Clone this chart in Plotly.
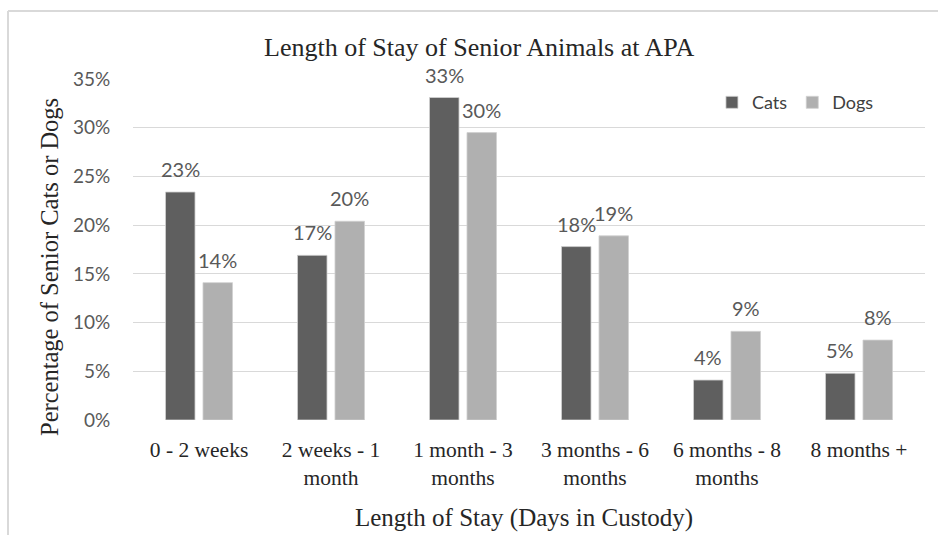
import plotly.graph_objects as go

categories = ["0 - 2 weeks", "2 weeks - 1<br>month", "1 month - 3<br>months",
              "3 months - 6<br>months", "6 months - 8<br>months", "8 months +"]
cats = [23.4, 16.9, 33.1, 17.8, 4.1, 4.8]
dogs = [14.1, 20.4, 29.5, 18.9, 9.1, 8.2]
y_ticks = [0, 5, 10, 15, 20, 25, 30, 35]
y_tick_labels = ["0%", "5%", "10%", "15%", "20%", "25%", "30%", "35%"]

SERIF = "Liberation Serif"
SANS = "Lato"
CAT_COLOR = "#5f5f5f"
DOG_COLOR = "#b0b0b0"

fig = go.Figure()
fig.add_trace(go.Bar(name="Cats", x=categories, y=cats, marker_color=CAT_COLOR,
                     marker_line=dict(color="#d0d0d0", width=0.8)))
fig.add_trace(go.Bar(name="Dogs", x=categories, y=dogs, marker_color=DOG_COLOR,
                     marker_line=dict(color="#d0d0d0", width=0.8)))

# data labels, placed from the data through the axes, offset to each bar of the group
label_annotations = []
for series, shift in ((cats, -18.75), (dogs, 18.75)):
    for cat, val in zip(categories, series):
        label_annotations.append(dict(
            x=cat, y=val, xref="x", yref="y", text=f"{val:.0f}%",
            xshift=shift, yshift=9, xanchor="center", yanchor="bottom",
            showarrow=False, font=dict(family=SANS, size=20, color="#595959")))

fig.update_layout(
    width=938, height=535,
    margin=dict(l=133, r=13, t=79, b=115),
    paper_bgcolor="white", plot_bgcolor="white",
    barmode="group", bargap=0.432, bargroupgap=0.213,
    showlegend=True,
    legend=dict(orientation="h", x=0.731, y=0.985, xanchor="left", yanchor="top",
                font=dict(family=SANS, size=18, color="#404040"),
                itemwidth=30, bgcolor="rgba(0,0,0,0)"),
    xaxis=dict(showgrid=False, showline=False, zeroline=False,
               ticks="outside", ticklen=10, tickcolor="rgba(0,0,0,0)",
               tickfont=dict(family=SERIF, size=21.5, color="#262626")),
    yaxis=dict(range=[0, 35], tickmode="array", tickvals=y_ticks, ticktext=y_tick_labels,
               showgrid=True, gridcolor="#d9d9d9", gridwidth=1,
               zeroline=False, showline=False,
               ticks="outside", ticklen=18, tickcolor="rgba(0,0,0,0)",
               tickfont=dict(family=SANS, size=19, color="#595959")),
    annotations=[
        dict(text="Length of Stay of Senior Animals at APA", xref="paper", yref="paper",
             x=(479 - 133) / 792, y=1 + (79 - 47) / 341, xanchor="center", yanchor="middle",
             showarrow=False, font=dict(family=SERIF, size=26, color="#262626")),
        dict(text="Percentage of Senior Cats or Dogs", xref="paper", yref="paper",
             x=(49 - 133) / 792, y=(420 - 267) / 341, xanchor="center", yanchor="middle",
             textangle=-90, showarrow=False,
             font=dict(family=SERIF, size=24.5, color="#262626")),
        dict(text="Length of Stay (Days in Custody)", xref="paper", yref="paper",
             x=(524 - 133) / 792, y=-(518 - 420) / 341, xanchor="center", yanchor="middle",
             showarrow=False, font=dict(family=SERIF, size=25, color="#262626")),
    ] + label_annotations,
    shapes=[
        dict(type="line", xref="paper", yref="paper",
             x0=(8 - 133) / 792, x1=(938 - 133) / 792,
             y0=1 + (79 - 11) / 341, y1=1 + (79 - 11) / 341,
             line=dict(color="#d9d9d9", width=2)),
        dict(type="line", xref="paper", yref="paper",
             x0=(8 - 133) / 792, x1=(8 - 133) / 792,
             y0=1 + (79 - 11) / 341, y1=-(535 - 420) / 341,
             line=dict(color="#d9d9d9", width=2)),
    ],
)

fig.write_html("out.html", config={"displayModeBar": False},
               post_script="document.body.style.margin='0';")
